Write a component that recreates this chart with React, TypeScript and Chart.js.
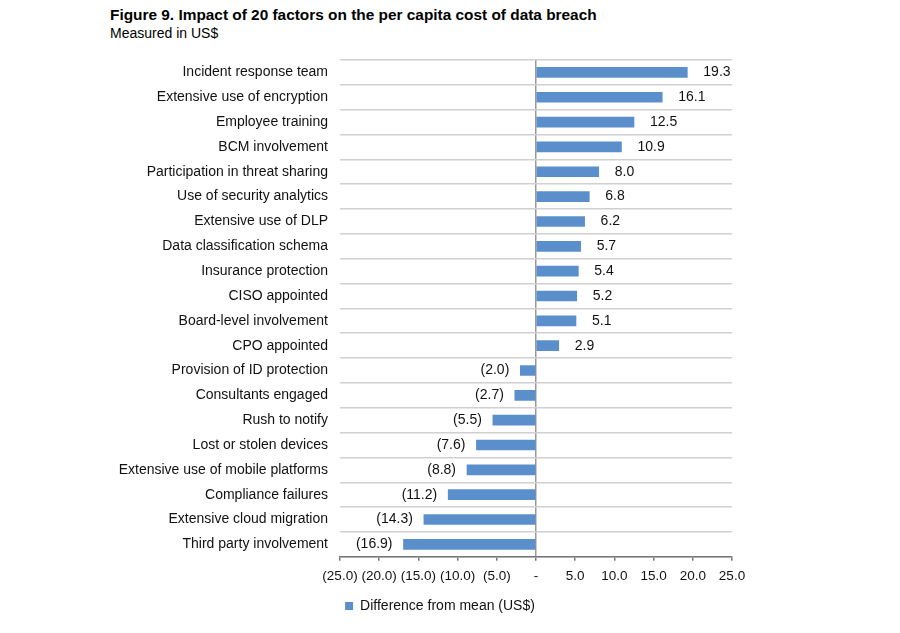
import React, { useEffect, useRef } from "react";
import { Chart, registerables } from "chart.js";

Chart.register(...registerables);

const categories = [
  "Incident response team",
  "Extensive use of encryption",
  "Employee training",
  "BCM involvement",
  "Participation in threat sharing",
  "Use of security analytics",
  "Extensive use of DLP",
  "Data classification schema",
  "Insurance protection",
  "CISO appointed",
  "Board-level involvement",
  "CPO appointed",
  "Provision of ID protection",
  "Consultants engaged",
  "Rush to notify",
  "Lost or stolen devices",
  "Extensive use of mobile platforms",
  "Compliance failures",
  "Extensive cloud migration",
  "Third party involvement",
];

const values = [
  19.3, 16.1, 12.5, 10.9, 8.0, 6.8, 6.2, 5.7, 5.4, 5.2, 5.1, 2.9,
  -2.0, -2.7, -5.5, -7.6, -8.8, -11.2, -14.3, -16.9,
];

const seriesName = "Difference from mean (US$)";
const titleText = "Figure 9. Impact of 20 factors on the per capita cost of data breach";
const subtitleText = "Measured in US$";

const FONT = "'Liberation Sans', Arial, sans-serif";
const BAR = "#5B8FCC";

const fmt = (v: number) =>
  v < 0 ? `(${Math.abs(v).toFixed(1)})` : v === 0 ? "-" : v.toFixed(1);

const labelPlugin = {
  id: "barLabels",
  afterDatasetsDraw(chart: any) {
    const ctx = chart.ctx;
    const meta = chart.getDatasetMeta(0);
    ctx.save();
    ctx.font = `14px ${FONT}`;
    ctx.fillStyle = "#111";
    ctx.textBaseline = "middle";
    meta.data.forEach((el: any, i: number) => {
      const v = values[i];
      if (v >= 0) {
        ctx.textAlign = "left";
        ctx.fillText(fmt(v), el.x + 16, el.y);
      } else {
        ctx.textAlign = "right";
        ctx.fillText(fmt(v), el.x - 11, el.y);
      }
    });
    ctx.restore();
  },
};

export default function App() {
  const ref = useRef<HTMLCanvasElement>(null);
  useEffect(() => {
    if (!ref.current) return;
    const chart = new Chart(ref.current, {
      type: "bar",
      data: {
        labels: categories,
        datasets: [
          {
            label: seriesName,
            data: values,
            backgroundColor: BAR,
            borderWidth: 0,
            barThickness: 10,
          },
        ],
      },
      plugins: [labelPlugin],
      options: {
        indexAxis: "y",
        animation: false,
        responsive: false,
        maintainAspectRatio: false,
        layout: { padding: { left: 110, right: 130, top: 60, bottom: 10 } },
        plugins: {
          legend: {
            position: "bottom",
            labels: {
              boxWidth: 8,
              boxHeight: 8,
              padding: 8,
              color: "#111",
              font: { family: FONT, size: 14 },
            },
          },
          tooltip: { enabled: false },
          title: { display: false },
        },
        scales: {
          x: {
            min: -25,
            max: 25,
            ticks: {
              stepSize: 5,
              color: "#111",
              font: { family: FONT, size: 13.5 },
              padding: 7,
              maxRotation: 0,
              autoSkip: false,
              callback: (v: any) => fmt(Number(v)),
            },
            grid: {
              color: (c: any) => (c.tick && c.tick.value === 0 ? "#999" : "transparent"),
              tickColor: "#777",
              tickLength: 4,
              lineWidth: 1.5,
            },
            border: { display: true, color: "#777", width: 1.5 },
          },
          y: {
            ticks: {
              color: "#111",
              font: { family: FONT, size: 14 },
              padding: 12,
              autoSkip: false,
            },
            grid: {
              offset: true,
              color: "#d0d0d0",
              lineWidth: 1.5,
              drawTicks: false,
            },
            border: { display: false },
            afterFit: (s: any) => {
              s.width = 230;
            },
          },
          yRight: {
            type: "linear",
            axis: "y",
            position: "right",
            display: true,
            grid: { display: false },
            ticks: { display: false },
            border: { display: false },
            afterFit: (s: any) => {
              s.width = 38;
            },
          },
        },
      },
    });
    return () => chart.destroy();
  }, []);

  return (
    <div style={{ position: "absolute", left: 0, top: 0, width: 900, height: 633, background: "#fff" }}>
      <div
        style={{
          position: "absolute",
          left: 110,
          top: 6,
          font: `bold 15.4px ${FONT}`,
          color: "#000",
          whiteSpace: "nowrap",
        }}
      >
        {titleText}
      </div>
      <div
        style={{
          position: "absolute",
          left: 110,
          top: 25,
          font: `14px ${FONT}`,
          color: "#000",
          whiteSpace: "nowrap",
        }}
      >
        {subtitleText}
      </div>
      <canvas ref={ref} width={900} height={633} style={{ position: "absolute", left: 0, top: 0 }} />
    </div>
  );
}
